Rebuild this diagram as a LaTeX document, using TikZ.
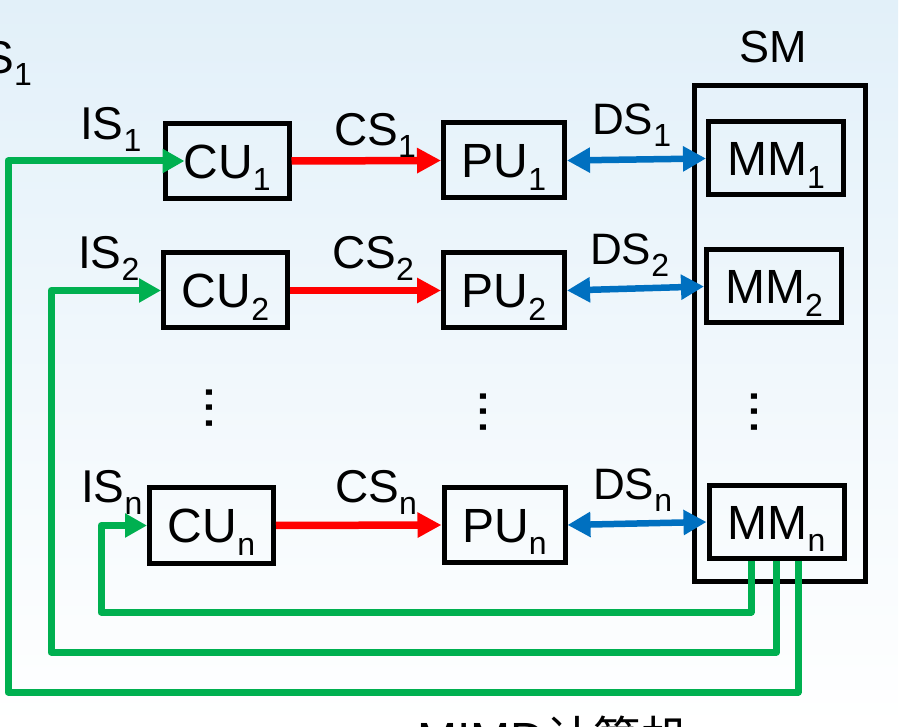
\documentclass[tikz,border=0pt]{standalone}
\usepackage{fontspec}
\setmainfont{Liberation Sans}
\newfontfamily\cjk{Noto Sans CJK SC}
\usetikzlibrary{arrows.meta}

\definecolor{instgreen}{RGB}{0,176,80}
\definecolor{ctrlred}{RGB}{255,0,0}
\definecolor{datablue}{RGB}{0,112,192}
\definecolor{slidetop}{RGB}{226,240,249}

\newcommand{\subidx}[1]{\raisebox{-0.26em}{\fontsize{32}{32}\selectfont #1}}

\begin{document}
\begin{tikzpicture}[x=1pt, y=-1pt,
  unit/.style={draw, line width=5pt, inner sep=0pt, text height=35pt, text depth=0pt,
    font=\fontsize{48}{48}\selectfont},
  cubox/.style={unit, minimum width=124pt, minimum height=75pt},
  pubox/.style={unit, minimum width=121pt, minimum height=75pt},
  mmbox/.style={unit, minimum width=135pt, minimum height=73pt},
  lab/.style={inner sep=0pt, anchor=base west, font=\fontsize{46}{46}\selectfont},
  vdot/.style={rotate=90, inner sep=0pt, font=\fontsize{57}{57}\selectfont},
  ctrl/.style={ctrlred, line width=7.5pt, -{Triangle[length=24pt,width=24pt]}},
  data/.style={datablue, line width=6.5pt, {Triangle[length=23pt,width=24pt]}-{Triangle[length=23pt,width=24pt]}},
  inst/.style={instgreen, line width=7pt, line join=round, -{Triangle[length=22pt,width=23pt]}}]

\useasboundingbox (0,0) rectangle (906,727);
\clip (0,0) rectangle (906,727);

% slide background
\fill [top color=slidetop, bottom color=white] (0,0) rectangle (898,727);

% shared memory
\node [draw, line width=5pt, minimum width=171pt, minimum height=496pt] (sm) at (780,333.5) {};
\node [lab, anchor=base, font=\fontsize{45}{45}\selectfont] (smlab) at (773,63) {SM};

% Draw the units
\node [cubox] (cu1) at (227,161)     {CU\subidx{1}};
\node [cubox] (cu2) at (225.5,290.5) {CU\subidx{2}};
\node [cubox] (cun) at (211.5,525.5) {CU\subidx{n}};

\node [pubox] (pu1) at (504,160.5)   {PU\subidx{1}};
\node [pubox] (pu2) at (504,290.5)   {PU\subidx{2}};
\node [pubox] (pun) at (504.5,525)   {PU\subidx{n}};

\node [mmbox] (mm1) at (776,158.5)   {MM\subidx{1}};
\node [mmbox] (mm2) at (774,286.5)   {MM\subidx{2}};
\node [mmbox] (mmn) at (776.5,522)   {MM\subidx{n}};

\node [vdot] (cudots) at (209,408) {...};
\node [vdot] (pudots) at (483,412) {...};
\node [vdot] (mmdots) at (754,412) {...};

% control and data streams
\draw [ctrl] (cu1.east) -- (pu1.west);
\draw [ctrl] (cu2.east) -- (pu2.west);
\draw [ctrl] (cun.east) -- (pun.west);

\draw [data] (pu1.east) -- (mm1.west);
\draw [data] (pu2.east) -- (mm2.west);
\draw [data] (pun.east) -- (mmn.west);

% instruction streams back from memory
\coordinate (r1) at (8,692);
\coordinate (r2) at (51,652);
\coordinate (rn) at (101,612);
\draw [inst] ([xshift=21.5pt]mmn.south) |- (r1) |- ([xshift=22pt]cu1.west);
\draw [inst] (mmn.south) |- (r2) |- (cu2.west);
\draw [inst] ([xshift=-25.5pt]mmn.south) |- (rn) |- (cun.west);

% stream labels
\node [lab] (is1) at (80,140)  {IS\subidx{1}};
\node [lab] (is2) at (78,269)  {IS\subidx{2}};
\node [lab] (isn) at (81,503)  {IS\subidx{n}};
\node [lab] (cs1) at (334,146) {CS\subidx{1}};
\node [lab] (cs2) at (332,269) {CS\subidx{2}};
\node [lab] (csn) at (335,503) {CS\subidx{n}};
\node [lab, font=\fontsize{44}{44}\selectfont] (ds1) at (592,135) {DS\subidx{1}};
\node [lab, font=\fontsize{44}{44}\selectfont] (ds2) at (590,265) {DS\subidx{2}};
\node [lab, font=\fontsize{44}{44}\selectfont] (dsn) at (593,500) {DS\subidx{n}};

% cut-off texts at the edges
\node [lab, anchor=base east] (topcut) at (32,74) {S\subidx{1}};
\node [lab, font=\fontsize{48}{48}\selectfont] (caption) at (417,756) {MIMD{\cjk 计算机}};

\end{tikzpicture}
\end{document}
